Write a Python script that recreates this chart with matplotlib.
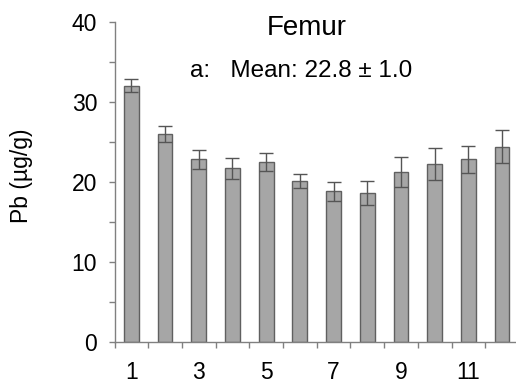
import matplotlib
matplotlib.use("Agg")
import matplotlib.pyplot as plt
import numpy as np

# Femur Pb by group
groups = list(range(1, 13))
pb_mean = [32.0, 26.0, 22.8, 21.7, 22.5, 20.1, 18.8, 18.6, 21.2, 22.2, 22.8, 24.4]
pb_err = [0.8, 1.0, 1.2, 1.3, 1.1, 0.85, 1.2, 1.5, 1.9, 2.0, 1.7, 2.1]
label_groups = [1, 3, 5, 7, 9, 11]

plt.rcParams["font.family"] = ["Liberation Sans", "DejaVu Sans"]

W, H = 516, 387
fig = plt.figure(figsize=(W / 100, H / 100), dpi=100)
ax = fig.add_axes([114.5 / W, (H - 342) / H, 404.4 / W, (342 - 21.7) / H])

ax.bar(groups, pb_mean, width=0.44, color="#a6a6a6", edgecolor="#606060",
       linewidth=1.0, zorder=2)
ax.errorbar(groups, pb_mean, yerr=pb_err, fmt="none", ecolor="#555555",
            elinewidth=1.0, capsize=5.3, capthick=1.0, zorder=3)

ax.set_xlim(0.5, 12.5)
ax.set_ylim(0, 40)

# boundary ticks without labels, labels under every other bar
ax.set_xticks(np.arange(0.5, 13, 1.0))
ax.set_xticklabels([])
ax.set_xticks(label_groups, minor=True)
ax.set_xticklabels([str(g) for g in label_groups], minor=True)
ax.tick_params(axis="x", which="major", direction="out", length=4.5,
               width=1.0, color="#808080")
ax.tick_params(axis="x", which="minor", length=0, pad=14, labelsize=16.5)

ax.set_yticks(np.arange(0, 41, 10))
ax.set_yticks(np.arange(5, 40, 10), minor=True)
ax.tick_params(axis="y", which="both", direction="out", length=4.5,
               width=1.0, color="#808080", labelsize=16.5, pad=8)

for side in ("top", "right"):
    ax.spines[side].set_visible(False)
for side in ("left", "bottom"):
    ax.spines[side].set_color("#808080")
    ax.spines[side].set_linewidth(1.0)

ax.set_ylabel("Pb (µg/g)", fontsize=16.5)
ax.yaxis.set_label_coords(-(114.5 - 33) / 404.4, (342 - 176) / (342 - 21.7))

fig.text(307 / W, 1 - 28 / H, "Femur", fontsize=20, ha="center", va="center")
fig.text(301.5 / W, 1 - 71 / H, "a:   Mean: 22.8 ± 1.0", fontsize=17.5,
         ha="center", va="center")

fig.savefig("out.png", dpi=100)
